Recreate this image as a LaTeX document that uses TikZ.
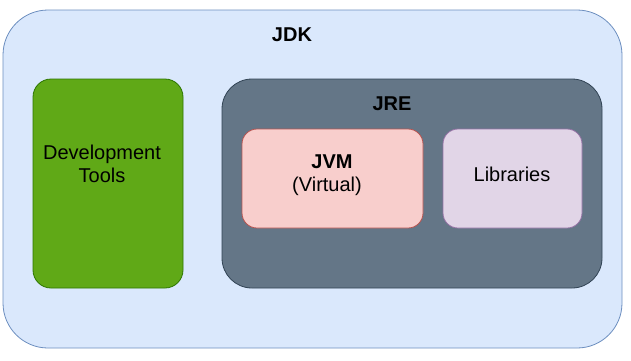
\documentclass[tikz,border=0pt]{standalone}
\usepackage{fontspec}
\setmainfont{Liberation Sans}
\definecolor{jdkfill}{HTML}{DAE8FC}
\definecolor{jdkline}{HTML}{6C8EBF}
\definecolor{devfill}{HTML}{60A917}
\definecolor{devline}{HTML}{2D7600}
\definecolor{jrefill}{HTML}{647687}
\definecolor{jreline}{HTML}{314354}
\definecolor{jvmfill}{HTML}{F8CECC}
\definecolor{jvmline}{HTML}{B85450}
\definecolor{libfill}{HTML}{E1D5E7}
\definecolor{libline}{HTML}{9673A6}
\begin{document}
\begin{tikzpicture}[x=1pt,y=-1pt,
  lbl/.style={inner sep=0pt,font=\fontsize{20}{23}\selectfont,align=center},
  blbl/.style={lbl,font=\fontsize{20}{23}\selectfont\bfseries}]
\useasboundingbox (0,0) rectangle (631,360);
\draw[fill=jdkfill,draw=jdkline,line width=0.8pt,rounded corners=45pt] (3,10) rectangle (622,348);
\node[blbl] (jdk) at (292,35) {JDK};
\draw[fill=devfill,draw=devline,line width=0.8pt,rounded corners=18pt] (33,79) rectangle (183,288);
\node[lbl] (dev) at (102,164) {Development\\Tools};
\draw[fill=jrefill,draw=jreline,line width=0.8pt,rounded corners=30pt] (222,79) rectangle (602,288);
\node[blbl] (jre) at (392,104) {JRE};
\draw[fill=jvmfill,draw=jvmline,line width=0.8pt,rounded corners=15pt] (242,129) rectangle (423,228);
\node[blbl] (jvm) at (332,162) {JVM};
\node[lbl] (virt) at (327,186) {(Virtual)};
\draw[fill=libfill,draw=libline,line width=0.8pt,rounded corners=15pt] (443,129) rectangle (582,228);
\node[lbl] (lib) at (512,174) {Libraries};
\end{tikzpicture}
\end{document}
